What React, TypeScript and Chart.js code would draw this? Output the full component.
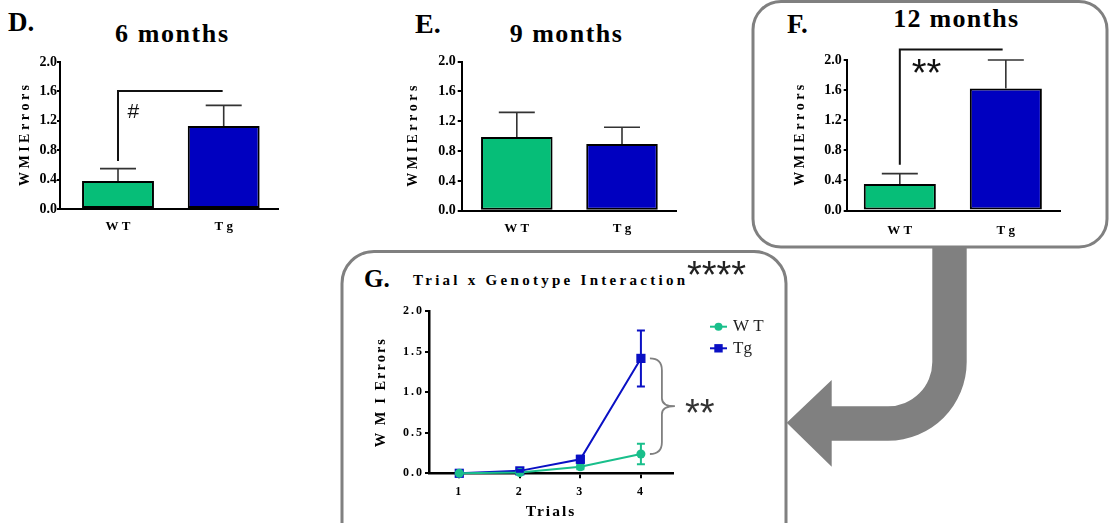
import React, { useEffect, useRef } from "react";
import { Chart, registerables } from "chart.js";

Chart.register(...registerables);
Chart.defaults.font.family = "'Liberation Serif', 'Times New Roman', serif";
Chart.defaults.color = "#000";

// ---------------- data ----------------
const groups = ["WT", "Tg"];
const months6Mean = [0.38, 1.13];
const months6Sem = [0.17, 0.28];
const months9Mean = [0.99, 0.895];
const months9Sem = [0.33, 0.225];
const months12Mean = [0.353, 1.62];
const months12Sem = [0.137, 0.38];
const barYTicks = [0, 0.4, 0.8, 1.2, 1.6, 2.0];

const trials = [1, 2, 3, 4];
const wtTrialMean = [0, 0.01, 0.08, 0.238];
const wtTrialSem = [0, 0.005, 0.03, 0.127];
const tgTrialMean = [0, 0.03, 0.172, 1.416];
const tgTrialSem = [0, 0.01, 0.045, 0.345];
const trialYTicks = [0, 0.5, 1.0, 1.5, 2.0];
const seriesLabels = ["W T", "Tg"];

// ---------------- styles ----------------
const GREEN_BAR = "#06BE78";
const BLUE_BAR = "#0000C0";
const GREEN_LINE = "#19BF8B";
const BLUE_LINE = "#0A10C4";
const GRAY = "#808080";

type Sig = { label: string; font: string; from: number; to: number; base: number; top: number; textX: number; textY: number };

type BarPanel = {
  means: number[];
  sems: number[];
  sig?: Sig;
  left: number; top: number; width: number; height: number;
  yW: number; padTop: number; padRight: number; xH: number;
  xMin: number; xMax: number;
  titlePad: number; yTickLen: number; yTickPad: number; xTickPad: number;
};

function drawCenteredText(ctx: CanvasRenderingContext2D, text: string, x: number, cy: number) {
  ctx.textBaseline = "alphabetic";
  ctx.textAlign = "left";
  const m = ctx.measureText(text);
  const base = cy + (m.actualBoundingBoxAscent - m.actualBoundingBoxDescent) / 2;
  ctx.fillText(text, x, base);
}

function makeBarConfig(p: BarPanel): any {
  const extras = {
    id: "barExtras",
    afterDatasetsDraw(chart: any) {
      const { ctx, scales } = chart;
      const x = scales.x, y = scales.y;
      ctx.save();
      ctx.strokeStyle = "#333";
      ctx.lineWidth = 1.6;
      p.means.forEach((m, i) => {
        const px = x.getPixelForValue(i + 1);
        const y0 = y.getPixelForValue(m);
        const y1 = y.getPixelForValue(m + p.sems[i]);
        ctx.beginPath();
        ctx.moveTo(px, y0);
        ctx.lineTo(px, y1);
        ctx.moveTo(px - 18, y1);
        ctx.lineTo(px + 18, y1);
        ctx.stroke();
      });
      if (p.sig) {
        const s = p.sig;
        ctx.strokeStyle = "#111";
        ctx.lineWidth = 2;
        ctx.beginPath();
        ctx.moveTo(x.getPixelForValue(s.from), y.getPixelForValue(s.base));
        ctx.lineTo(x.getPixelForValue(s.from), y.getPixelForValue(s.top));
        ctx.lineTo(x.getPixelForValue(s.to), y.getPixelForValue(s.top));
        ctx.stroke();
        ctx.fillStyle = "#111";
        ctx.font = s.font;
        drawCenteredText(ctx, s.label, x.getPixelForValue(s.textX), y.getPixelForValue(s.textY));
      }
      ctx.restore();
    },
  };
  return {
    type: "bar",
    data: {
      datasets: [
        {
          data: p.means.map((m, i) => ({ x: i + 1, y: m })),
          backgroundColor: [GREEN_BAR, BLUE_BAR],
          borderColor: "#000",
          borderWidth: 2,
          borderSkipped: false,
          barPercentage: 0.68,
          categoryPercentage: 1,
        },
      ],
    },
    options: {
      responsive: false,
      animation: false,
      layout: { padding: { top: p.padTop, right: p.padRight, left: 0, bottom: 0 } },
      plugins: { legend: { display: false }, tooltip: { enabled: false } },
      scales: {
        x: {
          type: "linear",
          min: p.xMin,
          max: p.xMax,
          offset: false,
          afterBuildTicks: (s: any) => { s.ticks = groups.map((_, i) => ({ value: i + 1 })); },
          afterFit: (s: any) => { s.height = p.xH; },
          ticks: {
            callback: (v: any) => { const g = groups[Math.round(v) - 1]; return g ? g.split("").join(" ") : ""; },
            font: { size: 13, weight: "bold" },
            color: "#000",
            padding: p.xTickPad,
            maxRotation: 0,
            autoSkip: false,
          },
          grid: { display: true, offset: false, drawOnChartArea: false, drawTicks: false, color: "#000" },
          border: { display: true, color: "#000", width: 2 },
        },
        y: {
          min: 0,
          max: 2,
          afterBuildTicks: (s: any) => { s.ticks = barYTicks.map((v) => ({ value: v })); },
          afterFit: (s: any) => { s.width = p.yW; },
          ticks: {
            callback: (v: any) => Number(v).toFixed(1),
            font: { size: 14, weight: "bold" },
            color: "#000",
            padding: p.yTickPad,
          },
          grid: { display: true, drawOnChartArea: false, drawTicks: true, tickLength: p.yTickLen, color: "#000", lineWidth: 2 },
          border: { display: true, color: "#000", width: 2 },
          title: {
            display: true,
            text: "W M I E r r o r s",
            font: { size: 14, weight: "bold" },
            color: "#000",
            padding: { top: p.titlePad, bottom: 0 },
          },
        },
      },
    },
    plugins: [extras],
  };
}

const panelD: BarPanel = {
  means: months6Mean, sems: months6Sem,
  sig: { label: "#", font: "21px 'Liberation Sans', Arial, sans-serif", from: 1, to: 1.99, base: 0.653, top: 1.605, textX: 1.09, textY: 1.336 },
  left: 0, top: 40, width: 285, height: 200,
  yW: 60, padTop: 22, padRight: 7, xH: 31,
  xMin: 0.4513, xMax: 2.5137,
  titlePad: 16.6, yTickLen: 3, yTickPad: 0, xTickPad: 10,
};
const panelE: BarPanel = {
  means: months9Mean, sems: months9Sem,
  left: 400, top: 40, width: 285, height: 200,
  yW: 61.7, padTop: 21.7, padRight: 8.3, xH: 29.3,
  xMin: 0.4762, xMax: 2.52,
  titlePad: 4.6, yTickLen: 4, yTickPad: 2, xTickPad: 10,
};
const panelF: BarPanel = {
  means: months12Mean, sems: months12Sem,
  sig: { label: "**", font: "38px 'Liberation Sans', Arial, sans-serif", from: 1, to: 1.97, base: 0.607, top: 2.14, textX: 1.112, textY: 1.917 },
  left: 760, top: 30, width: 310, height: 210,
  yW: 86.7, padTop: 30, padRight: 10, xH: 29.5,
  xMin: 0.499, xMax: 2.511,
  titlePad: 31.6, yTickLen: 3, yTickPad: 2, xTickPad: 12,
};

// ---------------- trial chart ----------------
const G = { left: 360, top: 255, width: 410, height: 268, yW: 69, padTop: 56, padRight: 97, xH: 49.7 };

function makeTrialConfig(): any {
  const series = [
    { label: seriesLabels[0], mean: wtTrialMean, sem: wtTrialSem, color: GREEN_LINE, style: "circle" },
    { label: seriesLabels[1], mean: tgTrialMean, sem: tgTrialSem, color: BLUE_LINE, style: "rect" },
  ];
  const drawMarker = (ctx: CanvasRenderingContext2D, style: string, color: string, cx: number, cy: number) => {
    ctx.fillStyle = color;
    ctx.beginPath();
    if (style === "circle") ctx.arc(cx, cy, 4, 0, Math.PI * 2);
    else ctx.rect(cx - 4.2, cy - 4.2, 8.4, 8.4);
    ctx.fill();
  };
  const extras = {
    id: "trialExtras",
    beforeDraw(chart: any) {
      chart.ctx.letterSpacing = "2px";
    },
    afterDatasetsDraw(chart: any) {
      const { ctx, scales } = chart;
      const x = scales.x, y = scales.y;
      ctx.save();
      ctx.lineWidth = 2;
      series.forEach((s) => {
        ctx.strokeStyle = s.color;
        s.mean.forEach((m, i) => {
          if (!s.sem[i]) return;
          const px = x.getPixelForValue(trials[i]);
          const yt = y.getPixelForValue(m + s.sem[i]);
          const yb = y.getPixelForValue(m - s.sem[i]);
          ctx.beginPath();
          ctx.moveTo(px, yt); ctx.lineTo(px, yb);
          ctx.moveTo(px - 4, yt); ctx.lineTo(px + 4, yt);
          ctx.moveTo(px - 4, yb); ctx.lineTo(px + 4, yb);
          ctx.stroke();
        });
      });
      ctx.restore();
    },
    afterDraw(chart: any) {
      const { ctx, scales, chartArea } = chart;
      ctx.letterSpacing = "0px";
      const x = scales.x, y = scales.y;
      ctx.save();
      // legend
      const lx = chartArea.right + 37;
      const ly0 = chartArea.top + 15.7;
      series.forEach((s, i) => {
        const yy = ly0 + i * 21.6;
        ctx.strokeStyle = s.color;
        ctx.lineWidth = 2;
        ctx.beginPath(); ctx.moveTo(lx, yy); ctx.lineTo(lx + 17, yy); ctx.stroke();
        drawMarker(ctx, s.style, s.color, lx + 8.5, yy);
        ctx.fillStyle = "#222";
        ctx.font = "17px 'Liberation Serif', serif";
        ctx.textBaseline = "middle";
        ctx.textAlign = "left";
        ctx.fillText(s.label, lx + 23, yy);
      });
      // brace between last points
      const last = trials.length - 1;
      const bx = x.getPixelForValue(trials[last]) + 9;
      const yt = y.getPixelForValue(tgTrialMean[last]);
      const yb = y.getPixelForValue(wtTrialMean[last]);
      const ym = (yt + yb) / 2;
      const w = 12, tip = 25;
      ctx.strokeStyle = GRAY;
      ctx.lineWidth = 1.8;
      ctx.beginPath();
      ctx.moveTo(bx, yt);
      ctx.quadraticCurveTo(bx + w, yt, bx + w, yt + 12);
      ctx.lineTo(bx + w, ym - 8);
      ctx.quadraticCurveTo(bx + w, ym, bx + tip, ym);
      ctx.quadraticCurveTo(bx + w, ym, bx + w, ym + 8);
      ctx.lineTo(bx + w, yb - 12);
      ctx.quadraticCurveTo(bx + w, yb, bx, yb);
      ctx.stroke();
      ctx.fillStyle = "#333";
      ctx.font = "38px 'Liberation Sans', Arial, sans-serif";
      drawCenteredText(ctx, "**", bx + 35, ym);
      // interaction significance
      ctx.fillStyle = "#222";
      drawCenteredText(ctx, "****", chartArea.right + 14, chartArea.top - 43.5);
      ctx.restore();
    },
  };
  return {
    type: "line",
    data: {
      datasets: series.map((s) => ({
        label: s.label,
        data: s.mean.map((m, i) => ({ x: trials[i], y: m })),
        borderColor: s.color,
        backgroundColor: s.color,
        borderWidth: 2,
        pointStyle: s.style,
        pointRadius: s.style === "circle" ? 4.5 : 6.5,
        pointBorderWidth: 0,
        clip: false,
        tension: 0,
      })),
    },
    options: {
      responsive: false,
      animation: false,
      layout: { padding: { top: G.padTop, right: G.padRight, left: 0, bottom: 0 } },
      plugins: { legend: { display: false }, tooltip: { enabled: false } },
      scales: {
        x: {
          type: "linear",
          min: 0.5,
          max: 4.53,
          afterBuildTicks: (s: any) => { s.ticks = trials.map((v) => ({ value: v })); },
          afterFit: (s: any) => { s.height = G.xH; },
          ticks: { callback: (v: any) => String(v), font: { size: 12, weight: "bold" }, color: "#000", padding: 6.3, maxRotation: 0, autoSkip: false },
          grid: { display: true, drawOnChartArea: false, drawTicks: true, tickLength: 5, color: "#000", lineWidth: 2 },
          border: { display: true, color: "#000", width: 2.5 },
          title: { display: true, text: "Trials", font: { size: 15.5, weight: "bold" }, color: "#000", padding: { top: 0, bottom: 2 } },
        },
        y: {
          min: 0,
          max: 2,
          afterBuildTicks: (s: any) => { s.ticks = trialYTicks.map((v) => ({ value: v })); },
          afterFit: (s: any) => { s.width = G.yW; },
          ticks: { callback: (v: any) => Number(v).toFixed(1), font: { size: 12, weight: "bold" }, color: "#000", padding: 1 },
          grid: { display: true, drawOnChartArea: false, drawTicks: true, tickLength: 4, color: "#000", lineWidth: 2 },
          border: { display: true, color: "#000", width: 2.5 },
          title: { display: true, text: "W M I Errors", font: { size: 14.5, weight: "bold" }, color: "#000", padding: { top: 13, bottom: 0 } },
        },
      },
    },
    plugins: [extras],
  };
}

// ---------------- components ----------------
function ChartCanvas(props: { make: () => any; left: number; top: number; width: number; height: number }) {
  const ref = useRef<HTMLCanvasElement>(null);
  useEffect(() => {
    const chart = new Chart(ref.current as HTMLCanvasElement, props.make());
    return () => chart.destroy();
  }, []);
  return (
    <canvas
      ref={ref}
      width={props.width}
      height={props.height}
      style={{ position: "absolute", left: props.left, top: props.top, width: props.width, height: props.height }}
    />
  );
}

const serif = "'Liberation Serif', 'Times New Roman', serif";

export default function App() {
  return (
    <div style={{ position: "fixed", left: 0, top: 0, width: 1109, height: 523, background: "#fff", overflow: "hidden" }}>
      <svg width={1109} height={523} style={{ position: "absolute", left: 0, top: 0 }} fontFamily={serif} fontWeight="bold">
        <rect x={342} y={251.5} width={444} height={310} rx={32} ry={32} fill="none" stroke={GRAY} strokeWidth={3} />
        <path
          d="M 932.3 247 L 966.7 247 L 966.7 362 A 78.7 78.7 0 0 1 888 440.7 L 831.7 440.7 L 831.7 466.7 L 786.7 422.7 L 831.7 380 L 831.7 406.3 L 888 406.3 A 44.3 44.3 0 0 0 932.3 362 Z"
          fill={GRAY}
        />
        <rect x={753} y={1.5} width={354} height={245.5} rx={28} ry={28} fill="none" stroke={GRAY} strokeWidth={3} />
        <text x={8} y={30.5} fontSize={27}>D.</text>
        <text x={171.5} y={41.5} fontSize={26} textAnchor="middle" textLength={113} lengthAdjust="spacing">6 months</text>
        <text x={415} y={33} fontSize={28}>E.</text>
        <text x={565.8} y={41.5} fontSize={26} textAnchor="middle" textLength={112} lengthAdjust="spacing">9 months</text>
        <text x={787} y={33} fontSize={27}>F.</text>
        <text x={955.7} y={26.5} fontSize={26} textAnchor="middle" textLength={125} lengthAdjust="spacing">12 months</text>
        <text x={364} y={287} fontSize={25}>G.</text>
        <text x={413} y={284.5} fontSize={15} textLength={272} lengthAdjust="spacing">Trial x Genotype Interaction</text>
      </svg>
      {[panelD, panelE, panelF].map((p, i) => (
        <ChartCanvas key={i} make={() => makeBarConfig(p)} left={p.left} top={p.top} width={p.width} height={p.height} />
      ))}
      <ChartCanvas make={makeTrialConfig} left={G.left} top={G.top} width={G.width} height={G.height} />
    </div>
  );
}
